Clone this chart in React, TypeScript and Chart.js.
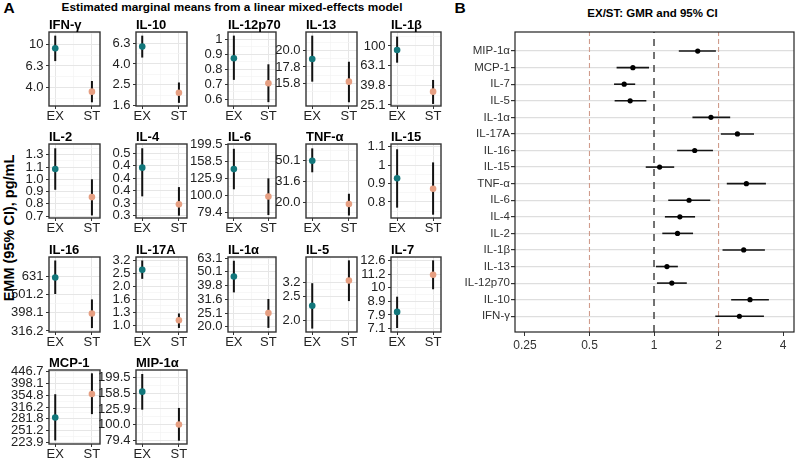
import React, { useEffect, useRef } from 'react';
import { Chart, registerables } from 'chart.js';

Chart.register(...registerables);

const FONT = '"Liberation Sans", Arial, Helvetica, sans-serif';

// ---------------- Data (panel A) ----------------
const cytokines = ['IFN-γ', 'IL-10', 'IL-12p70', 'IL-13', 'IL-1β', 'IL-2', 'IL-4', 'IL-6', 'TNF-α', 'IL-15', 'IL-16', 'IL-17A', 'IL-1α', 'IL-5', 'IL-7', 'MCP-1', 'MIP-1α'];
const groups = ['EX', 'ST'];

const exMean = [9.18, 5.85, 0.864, 18.82, 91.0, 1.102, 0.439, 142.8, 50.1, 0.921, 623, 2.677, 46.3, 2.376, 8.154, 285.5, 162];
const exLow = [7.0, 4.59, 0.732, 16.03, 67.6, 0.906, 0.337, 108.4, 38.7, 0.766, 505.6, 2.28, 35.5, 1.803, 7.115, 228.2, 124.6];
const exHigh = [12.0, 7.46, 1.028, 22.18, 124.5, 1.338, 0.525, 188.3, 65.9, 1.104, 774, 3.16, 60.3, 3.124, 9.27, 358.3, 209.3];
const stMean = [3.66, 2.1, 0.713, 16.03, 34.3, 0.846, 0.313, 98.2, 19.1, 0.862, 394.8, 1.094, 25.1, 3.225, 11.15, 359.3, 100.4];
const stLow = [2.92, 1.68, 0.617, 13.86, 25.7, 0.712, 0.282, 76.3, 14.8, 0.733, 328, 0.953, 19.6, 2.516, 9.87, 295.1, 79.4];
const stHigh = [4.59, 2.64, 0.825, 18.45, 45.1, 1.0, 0.367, 125.9, 24.0, 1.017, 472, 1.233, 31.8, 4.12, 12.6, 439.5, 127.8];

const yAxisMin = [2.7, 1.567, 0.599, 13.5, 24.5, 0.695, 0.276, 73.3, 14.0, 0.718, 312, 0.887, 18.3, 1.73, 6.88, 220.4, 75.7];
const yAxisMax = [12.97, 8.09, 1.057, 22.76, 138.7, 1.393, 0.546, 201, 72.6, 1.141, 809, 3.36, 64.2, 4.29, 12.96, 454, 221.8];

const yTickValues: number[][] = [
  [3.981, 6.31, 10],
  [1.585, 2.512, 3.981, 6.31],
  [0.631, 0.708, 0.794, 0.891, 1],
  [15.85, 17.78, 19.95],
  [25.12, 39.81, 63.1, 100],
  [0.708, 0.794, 0.891, 1, 1.122, 1.259],
  [0.282, 0.316, 0.355, 0.398, 0.447, 0.501],
  [79.43, 100, 125.9, 158.5, 199.5],
  [19.95, 31.62, 50.12],
  [0.794, 0.891, 1, 1.122],
  [316.2, 398.1, 501.2, 631.0],
  [1, 1.259, 1.585, 1.995, 2.512, 3.162],
  [19.95, 25.12, 31.62, 39.81, 50.12, 63.1],
  [1.995, 2.65, 3.162],
  [7.079, 7.943, 8.913, 10, 11.22, 12.59],
  [223.9, 251.2, 281.8, 316.2, 354.8, 398.1, 446.7],
  [79.43, 100, 125.9, 158.5, 199.5],
];
const yTickLabels: string[][] = [
  ['4.0', '6.3', '10'],
  ['1.6', '2.5', '4.0', '6.3'],
  ['0.6', '0.7', '0.8', '0.9', '1'],
  ['15.8', '17.8', '20.0'],
  ['25.1', '39.8', '63.1', '100'],
  ['0.7', '0.8', '0.9', '1.0', '1.1', '1.3'],
  ['0.3', '0.3', '0.4', '0.4', '0.4', '0.5'],
  ['79.4', '100.0', '125.9', '158.5', '199.5'],
  ['20.0', '31.6', '50.1'],
  ['0.8', '0.9', '1', '1.1'],
  ['316.2', '398.1', '501.2', '631'],
  ['1.0', '1.3', '1.6', '2.0', '2.5', '3.2'],
  ['20.0', '25.1', '31.6', '39.8', '50.1', '63.1'],
  ['2.0', '2.5', '3.2'],
  ['7.1', '7.9', '8.9', '10', '11.2', '12.6'],
  ['223.9', '251.2', '281.8', '316.2', '354.8', '398.1', '446.7'],
  ['79.4', '100.0', '125.9', '158.5', '199.5'],
];

// ---------------- Data (panel B), same order as cytokines, bottom to top ----------------
const gmr = [2.502, 2.804, 1.211, 1.149, 2.62, 1.287, 1.32, 1.457, 2.696, 1.062, 1.548, 2.449, 1.843, 0.774, 0.726, 0.797, 1.599];
const gmrLow = [1.931, 2.29, 1.032, 1.021, 2.087, 1.093, 1.124, 1.165, 2.185, 0.915, 1.282, 2.05, 1.511, 0.655, 0.651, 0.669, 1.305];
const gmrHigh = [3.256, 3.434, 1.422, 1.292, 3.29, 1.521, 1.554, 1.83, 3.326, 1.242, 1.883, 2.926, 2.266, 0.921, 0.817, 0.948, 1.944];
const bTicks = [0.25, 0.5, 1, 2, 4];
const bTickLabels = ['0.25', '0.5', '1', '2', '4'];
const refLines = [0.5, 1, 2];
const bXMin = 0.2247;
const bXMax = 4.497;
const bYMin = 0.05;
const bYMax = 18.15;

// ---------------- Layout / style ----------------
const EX_COLOR = '#12777b';
const ST_COLOR = '#e69f82';
const colX: [number, number][] = [[49, 100], [136, 187], [228, 276], [306, 357], [391, 441]];
const rowY: [number, number][] = [[32, 106], [144, 218], [257, 332], [370, 444]];

const framePlugin = {
  id: 'frame',
  afterDraw(chart: any, _args: any, opts: any) {
    const { ctx, chartArea: a } = chart;
    ctx.save();
    ctx.strokeStyle = opts.color;
    ctx.lineWidth = opts.width;
    ctx.strokeRect(a.left, a.top, a.right - a.left, a.bottom - a.top);
    if (opts.title) {
      ctx.fillStyle = '#000';
      ctx.font = opts.font;
      ctx.textAlign = 'left';
      ctx.textBaseline = 'alphabetic';
      ctx.fillText(opts.title, a.left, a.top - 3);
    }
    ctx.restore();
  },
};

function minorTicks(m: number[], lo: number, hi: number) {
  const s = [...m].sort((a, b) => a - b);
  const out: number[] = [];
  for (let i = 0; i < s.length - 1; i++) out.push(Math.sqrt(s[i] * s[i + 1]));
  if (s.length > 1) {
    out.push(s[0] / Math.sqrt(s[1] / s[0]));
    const n = s.length;
    out.push(s[n - 1] * Math.sqrt(s[n - 1] / s[n - 2]));
  }
  return out.filter((v) => v > lo && v < hi);
}

function Panel({ idx }: { idx: number }) {
  const ref = useRef<HTMLCanvasElement>(null);
  const [l, r] = colX[idx % 5];
  const [t, b] = rowY[Math.floor(idx / 5)];
  const YW = 44, TP = 20, RP = 10, XH = 22;
  const w = r - l + YW + RP;
  const h = b - t + TP + XH;
  useEffect(() => {
    const majors = yTickValues[idx];
    const labels = yTickLabels[idx];
    const all = [...majors, ...minorTicks(majors, yAxisMin[idx], yAxisMax[idx])];
    const nMaj = majors.length;
    const chart = new Chart(ref.current as HTMLCanvasElement, {
      type: 'scatter',
      data: {
        datasets: [
          { data: [{ x: 0, y: exMean[idx] }], backgroundColor: EX_COLOR, pointRadius: 3.3, borderWidth: 0, order: 0 } as any,
          { data: [{ x: 1, y: stMean[idx] }], backgroundColor: ST_COLOR, pointRadius: 3.3, borderWidth: 0, order: 0 },
          { data: [{ x: 0, y: exLow[idx] }, { x: 0, y: exHigh[idx] }], showLine: true, borderColor: '#111', borderWidth: 2, pointRadius: 0, order: 1 },
          { data: [{ x: 1, y: stLow[idx] }, { x: 1, y: stHigh[idx] }], showLine: true, borderColor: '#111', borderWidth: 2, pointRadius: 0, order: 1 },
        ],
      },
      options: {
        animation: false,
        responsive: false,
        devicePixelRatio: 1,
        layout: { padding: { top: TP, right: RP, left: 0, bottom: 0 } },
        plugins: {
          legend: { display: false },
          tooltip: { enabled: false },
          frame: { color: '#333', width: 1.4, title: cytokines[idx], font: `bold 13px ${FONT}` },
        } as any,
        scales: {
          x: {
            type: 'linear',
            min: -0.17,
            max: 1.22,
            bounds: 'data',
            afterFit: (s: any) => { s.height = XH; },
            afterBuildTicks: (s: any) => { s.ticks = [0, 0.5, 1].map((v) => ({ value: v })); },
            border: { display: false },
            grid: {
              color: (c: any) => (c.index === 1 ? '#f3f3f3' : '#e6e6e6'),
              lineWidth: (c: any) => (c.index === 1 ? 0.7 : 1),
              tickLength: 3,
              tickColor: (c: any) => (c.index === 1 ? 'rgba(0,0,0,0)' : '#333'),
            },
            ticks: {
              autoSkip: false,
              maxRotation: 0,
              padding: 0,
              color: '#222',
              font: { family: FONT, size: 13 },
              callback: (v: any) => (v === 0 ? groups[0] : v === 1 ? groups[1] : ''),
            },
          },
          y: {
            type: 'logarithmic',
            min: yAxisMin[idx],
            max: yAxisMax[idx],
            bounds: 'data',
            afterFit: (s: any) => { s.width = YW; },
            afterBuildTicks: (s: any) => { s.ticks = all.map((v) => ({ value: v })); },
            border: { display: false },
            grid: {
              color: (c: any) => (c.index < nMaj ? '#e6e6e6' : '#f3f3f3'),
              lineWidth: (c: any) => (c.index < nMaj ? 1 : 0.7),
              tickLength: 3,
              tickColor: (c: any) => (c.index < nMaj ? '#333' : 'rgba(0,0,0,0)'),
            },
            ticks: {
              autoSkip: false,
              padding: 2.5,
              color: '#222',
              font: { family: FONT, size: 13 },
              callback: (_v: any, i: number) => (i < nMaj ? labels[i] : ''),
            },
          },
        } as any,
      },
      plugins: [framePlugin as any],
    });
    return () => chart.destroy();
  }, [idx]);
  return (
    <canvas
      ref={ref}
      width={w}
      height={h}
      style={{ position: 'absolute', left: l - YW, top: t - TP, width: w, height: h }}
    />
  );
}

function Forest() {
  const ref = useRef<HTMLCanvasElement>(null);
  const L = 430, T = 0, W = 368, H = 360;
  const YW = 85, TP = 32, RP = 2, XH = 28;
  useEffect(() => {
    const datasets: any[] = [
      {
        data: cytokines.map((_, i) => ({ x: gmr[i], y: i + 1 })),
        backgroundColor: '#000',
        pointRadius: 2.6,
        borderWidth: 0,
        order: 0,
      },
    ];
    cytokines.forEach((_, i) => {
      datasets.push({
        data: [{ x: gmrLow[i], y: i + 1 }, { x: gmrHigh[i], y: i + 1 }],
        showLine: true,
        borderColor: '#151515',
        borderWidth: 1.6,
        pointRadius: 0,
        order: 1,
      });
    });
    refLines.forEach((v) => {
      const main = v === 1;
      datasets.push({
        data: [{ x: v, y: bYMin }, { x: v, y: bYMax }],
        showLine: true,
        borderColor: main ? '#444' : '#d09c8c',
        borderWidth: main ? 1.5 : 1.1,
        borderDash: main ? [7, 6] : [5, 3],
        pointRadius: 0,
        order: 2,
      });
    });
    const chart = new Chart(ref.current as HTMLCanvasElement, {
      type: 'scatter',
      data: { datasets },
      options: {
        animation: false,
        responsive: false,
        devicePixelRatio: 1,
        layout: { padding: { top: TP, right: RP, left: 0, bottom: 0 } },
        plugins: {
          legend: { display: false },
          tooltip: { enabled: false },
          frame: { color: '#222', width: 1.2 },
        } as any,
        scales: {
          x: {
            type: 'logarithmic',
            min: bXMin,
            max: bXMax,
            bounds: 'data',
            afterFit: (s: any) => { s.height = XH; },
            afterBuildTicks: (s: any) => { s.ticks = bTicks.map((v) => ({ value: v })); },
            border: { display: false },
            grid: { drawOnChartArea: false, tickLength: 4, tickColor: '#333' },
            ticks: {
              autoSkip: false,
              maxRotation: 0,
              padding: 2,
              color: '#333',
              font: { family: FONT, size: 12 },
              callback: (_v: any, i: number) => bTickLabels[i],
            },
          },
          y: {
            type: 'linear',
            min: bYMin,
            max: bYMax,
            bounds: 'data',
            afterFit: (s: any) => { s.width = YW; },
            afterBuildTicks: (s: any) => { s.ticks = cytokines.map((_, i) => ({ value: i + 1 })); },
            border: { display: false },
            grid: { color: '#dedede', lineWidth: 1.2, tickLength: 4, tickColor: '#333' },
            ticks: {
              autoSkip: false,
              padding: 1,
              color: '#333',
              font: { family: FONT, size: 11.5 },
              callback: (_v: any, i: number) => cytokines[i],
            },
          },
        } as any,
      },
      plugins: [framePlugin as any],
    });
    return () => chart.destroy();
  }, []);
  return (
    <canvas ref={ref} width={W} height={H} style={{ position: 'absolute', left: L, top: T, width: W, height: H }} />
  );
}

const textBase: React.CSSProperties = {
  position: 'absolute',
  whiteSpace: 'nowrap',
  fontFamily: FONT,
  fontWeight: 'bold',
  color: '#000',
  transform: 'translate(-50%, -50%)',
};

export default function App() {
  return (
    <div
      style={{
        position: 'absolute',
        left: 0,
        top: 0,
        width: 798,
        height: 459,
        background: '#fff',
        overflow: 'hidden',
        fontFamily: FONT,
      }}
    >
      <div style={{ ...textBase, left: 9, top: 8, fontSize: 15.5, lineHeight: '15.5px' }}>A</div>
      <div style={{ ...textBase, left: 460, top: 8, fontSize: 15.5, lineHeight: '15.5px' }}>B</div>
      <div style={{ ...textBase, left: 232, top: 8, fontSize: 11.8, lineHeight: '11.8px' }}>
        Estimated marginal means from a linear mixed-effects model
      </div>
      <div style={{ ...textBase, left: 652.5, top: 14, fontSize: 11.5, lineHeight: '11.5px' }}>EX/ST: GMR and 95% CI</div>
      <div
        style={{
          ...textBase,
          left: 9,
          top: 228,
          fontSize: 14.5,
          lineHeight: '14.5px',
          transform: 'translate(-50%, -50%) rotate(-90deg)',
        }}
      >
        EMM (95% CI), pg/mL
      </div>
      {cytokines.map((c, i) => (
        <Panel key={c} idx={i} />
      ))}
      <Forest />
    </div>
  );
}
